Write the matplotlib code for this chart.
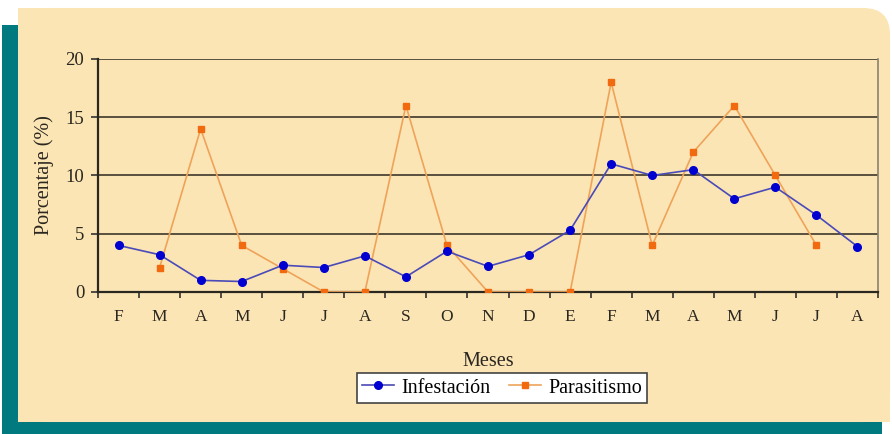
import numpy as np
import matplotlib
matplotlib.use("Agg")
import matplotlib.pyplot as plt
from matplotlib.patches import Rectangle, FancyBboxPatch
from matplotlib.ticker import FixedLocator

plt.rcParams["font.family"] = ["Liberation Serif", "DejaVu Serif"]

meses = ["F", "M", "A", "M", "J", "J", "A", "S", "O", "N",
         "D", "E", "F", "M", "A", "M", "J", "J", "A"]
infestacion = [4.0, 3.2, 1.0, 0.9, 2.3, 2.1, 3.1, 1.3, 3.5, 2.2,
               3.2, 5.3, 11.0, 10.0, 10.5, 8.0, 9.0, 6.6, 3.9]
parasitismo = [np.nan, 2.1, 14.0, 4.0, 2.0, 0.0, 0.0, 16.0, 4.0, 0.0,
               0.0, 0.0, 18.0, 4.0, 12.0, 16.0, 10.0, 4.0, np.nan]

beige = "#FBE5B4"
teal = "#007A7E"

fig = plt.figure(figsize=(8.92, 4.34), dpi=100)
fig.patch.set_facecolor("white")

# teal shadow behind the panel
fig.patches.append(Rectangle((0.0022, 0.0), 0.9866, 0.9424, transform=fig.transFigure,
                             facecolor=teal, edgecolor="none", zorder=-3))
# beige panel with rounded top-right corner
fig.patches.append(FancyBboxPatch((0.0202, 0.0276), 0.9776, 0.954,
                                  boxstyle="round,pad=0,rounding_size=0.03",
                                  transform=fig.transFigure, facecolor=beige,
                                  edgecolor="none", zorder=-2, mutation_aspect=2.05))
fig.patches.append(Rectangle((0.0202, 0.0276), 0.95, 0.954, transform=fig.transFigure,
                             facecolor=beige, edgecolor="none", zorder=-2))
fig.patches.append(Rectangle((0.0202, 0.0276), 0.9776, 0.8, transform=fig.transFigure,
                             facecolor=beige, edgecolor="none", zorder=-2))

ax = fig.add_axes([0.1099, 0.3272, 0.8744, 0.5369])
ax.set_facecolor("none")
ax.set_zorder(5)

x = np.arange(len(meses))
ax.plot(x, infestacion, color="#4A4AB8", lw=1.2, marker="o", ms=5.5,
        mfc="#0000D0", mec="#0000D0", label="Infestación", zorder=4)
ax.plot(x, parasitismo, color="#EFA35A", lw=1.2, marker="s", ms=5,
        mfc="#F26A10", mec="#F26A10", label="Parasitismo", zorder=3)

ax.set_xlim(-0.5, len(meses) - 0.5)
ax.set_ylim(0, 20)
ax.set_yticks([0, 5, 10, 15, 20])
ax.yaxis.grid(True, color="#4B4535", lw=1.3)
ax.set_axisbelow(True)

ax.set_xticks(x)
ax.set_xticklabels(meses)
ax.xaxis.set_minor_locator(FixedLocator(np.arange(-0.5, len(meses), 1.0)))
ax.tick_params(axis="x", which="major", length=0, pad=12, labelsize=12.5, colors="#2A2620")
ax.tick_params(axis="x", which="minor", length=4, width=1.2, color="#333")
ax.tick_params(axis="y", length=5, width=1.2, color="#333", labelsize=13.5, pad=5,
               labelcolor="#2A2620")

for s in ["left", "bottom"]:
    ax.spines[s].set_color("#2A2620")
    ax.spines[s].set_linewidth(1.6)
ax.spines["top"].set_visible(False)
ax.spines["right"].set_color("#8A8270")
ax.spines["right"].set_linewidth(1.2)

ax.set_ylabel("Porcentaje (%)", fontsize=14.5, labelpad=8, color="#2A2620")
ax.set_xlabel("Meses", fontsize=14.5, labelpad=20, color="#2A2620")

leg = fig.legend(loc="center", bbox_to_anchor=(0.5628, 0.106), ncol=2, fontsize=14.5,
                 frameon=True, fancybox=False, edgecolor="#444", framealpha=1,
                 handlelength=1.6, columnspacing=0.9, borderpad=0.25, handletextpad=0.35)
leg.get_frame().set_linewidth(1.2)

fig.savefig("out.png", dpi=100, facecolor=fig.get_facecolor())
